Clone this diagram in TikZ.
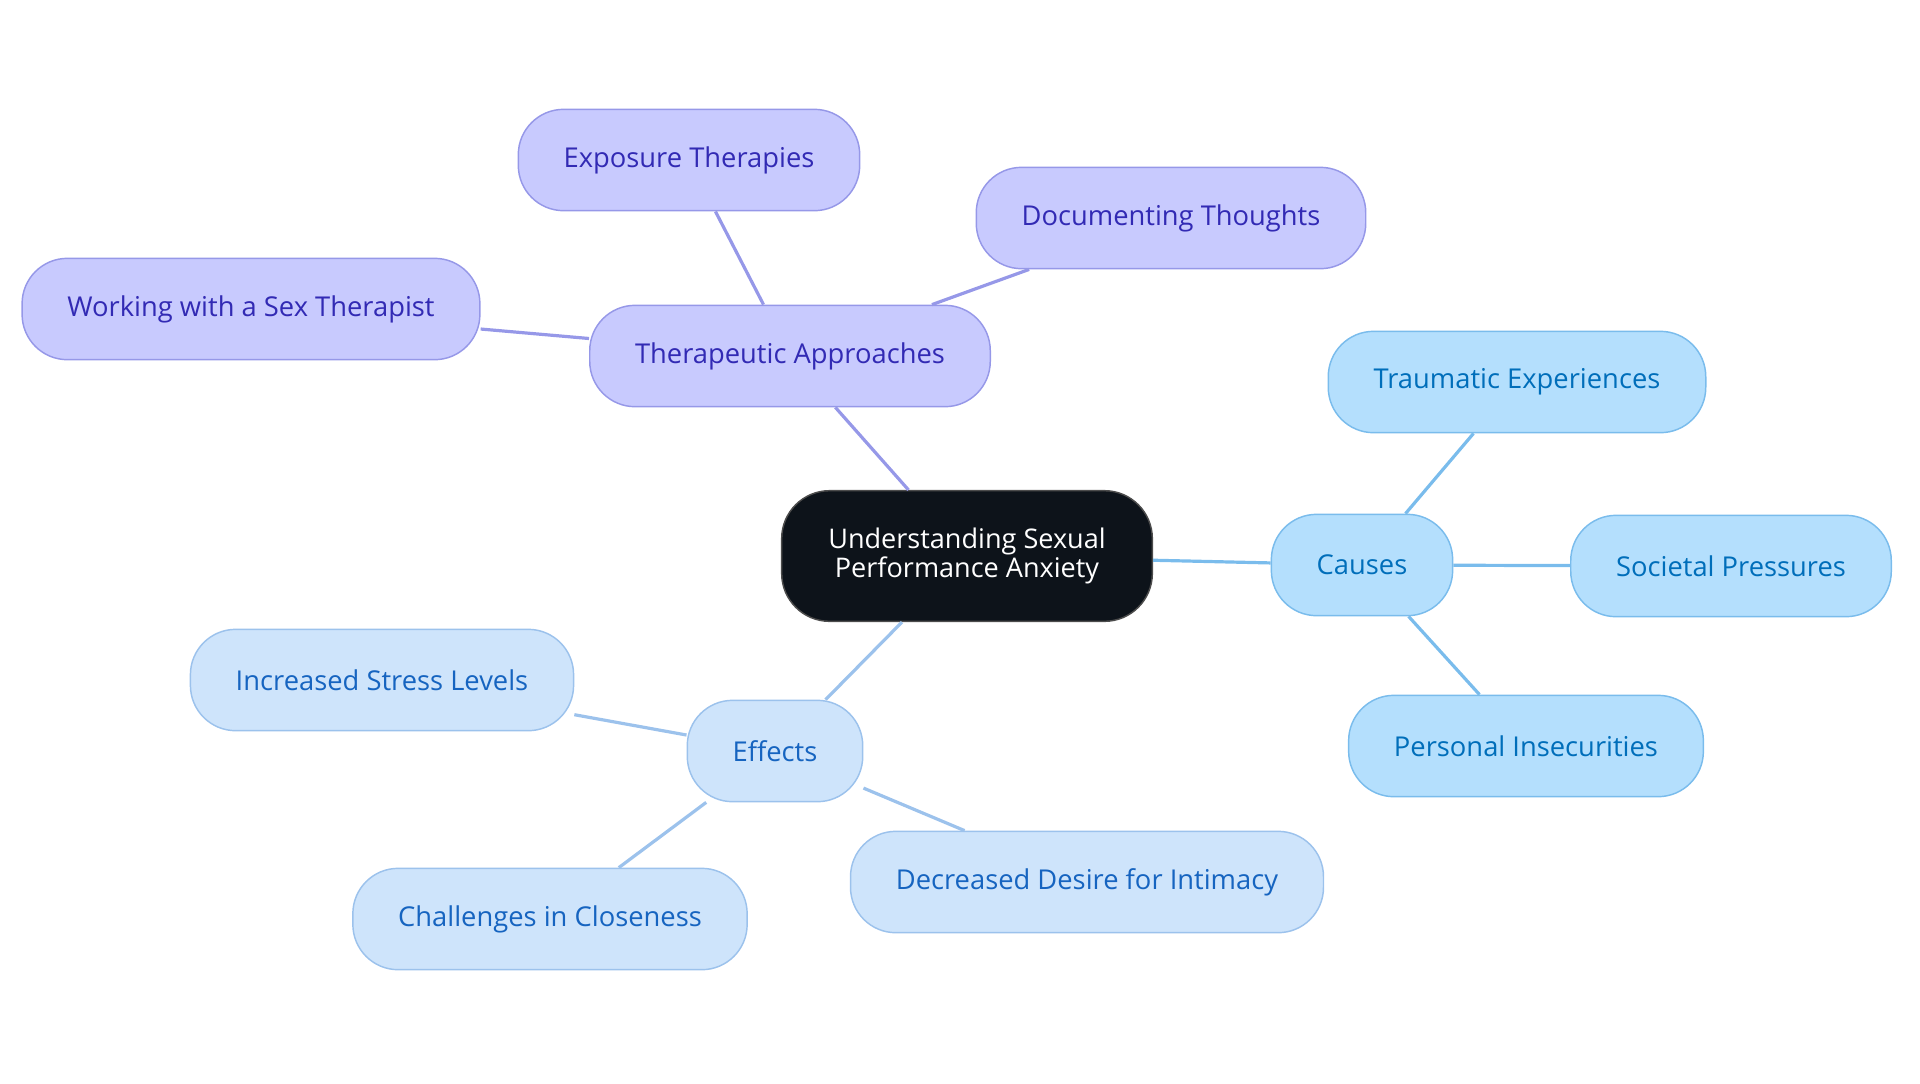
\documentclass[tikz,border=0pt]{standalone}
\usepackage{fontspec}
\setmainfont{Open Sans}
\definecolor{rootfill}{RGB}{13,19,26}
\definecolor{purpfill}{RGB}{200,202,254}
\definecolor{purpline}{RGB}{150,152,232}
\definecolor{purptext}{RGB}{50,42,180}
\definecolor{bluefill}{RGB}{180,223,253}
\definecolor{blueline}{RGB}{122,188,236}
\definecolor{bluetext}{RGB}{0,110,186}
\definecolor{lbluefill}{RGB}{206,228,251}
\definecolor{lblueline}{RGB}{156,194,236}
\definecolor{lbluetext}{RGB}{22,100,192}
\tikzset{every picture/.style={line width=0.75pt}}
\tikzset{
  leaf/.style={draw, line width=1.1pt, rounded corners=34pt, minimum height=76pt,
    inner xsep=34pt, font=\fontsize{20.5}{24}\selectfont},
  purpnode/.style={leaf, fill=purpfill, draw=purpline, text=purptext},
  bluenode/.style={leaf, fill=bluefill, draw=blueline, text=bluetext},
  lbluenode/.style={leaf, fill=lbluefill, draw=lblueline, text=lbluetext},
  rootnode/.style={draw=black!70, line width=1.1pt, fill=rootfill, text=white, rounded corners=36pt,
    minimum height=98pt, minimum width=278pt, align=center, font=\fontsize{20.3}{22}\selectfont},
  purpedge/.style={draw=purpline, line width=2.4pt},
  blueedge/.style={draw=blueline, line width=2.4pt},
  lblueedge/.style={draw=lblueline, line width=2.4pt}
}
\begin{document}
\begin{tikzpicture}[x=0.75pt,y=0.75pt,yscale=-1,xscale=1]
	\useasboundingbox (0,0) rectangle (1920,1083);
	% centre
	\node [rootnode] (root) at (967,556) {Understanding Sexual\\Performance Anxiety};
	% therapeutic approaches
	\node [purpnode] (ther) at (790,356) {Therapeutic Approaches};
	\node [purpnode] (expo) at (689,160) {Exposure Therapies};
	\node [purpnode] (docu) at (1171,218) {Documenting Thoughts};
	\node [purpnode] (work) at (251,309) {Working with a Sex Therapist};
	% causes
	\node [bluenode] (caus) at (1362,565) {Causes};
	\node [bluenode] (trau) at (1517,382) {Traumatic Experiences};
	\node [bluenode] (soci) at (1731,566) {Societal Pressures};
	\node [bluenode] (pers) at (1526,746) {Personal Insecurities};
	% effects
	\node [lbluenode] (effe) at (775,751) {Effects};
	\node [lbluenode] (incr) at (382,680) {Increased Stress Levels};
	\node [lbluenode] (chal) at (550,919) {Challenges in Closeness};
	\node [lbluenode] (decr) at (1087,882) {Decreased Desire for Intimacy};

	\draw [purpedge] (root) -- (ther);
	\draw [purpedge] (ther) -- (expo);
	\draw [purpedge] (ther) -- (docu);
	\draw [purpedge] (ther) -- (work);
	\draw [blueedge] (root) -- (caus);
	\draw [blueedge] (caus) -- (trau);
	\draw [blueedge] (caus) -- (soci);
	\draw [blueedge] (caus) -- (pers);
	\draw [lblueedge] (root) -- (effe);
	\draw [lblueedge] (effe) -- (incr);
	\draw [lblueedge] (effe) -- (chal);
	\draw [lblueedge] (effe) -- (decr);
\end{tikzpicture}
\end{document}
